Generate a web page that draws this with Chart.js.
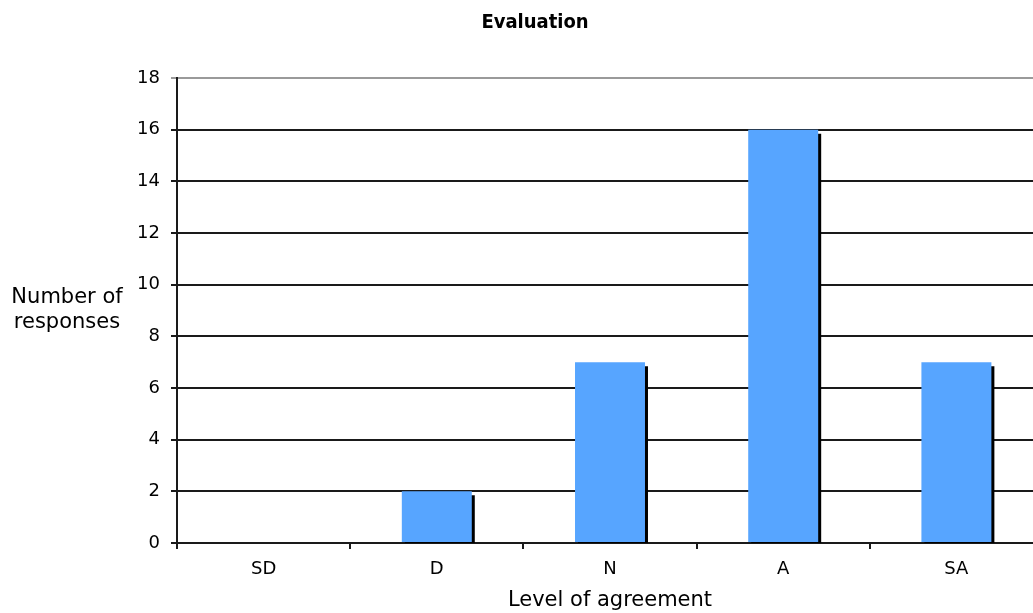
<!DOCTYPE html>
<html>
<head>
<meta charset="utf-8">
<script src="https://cdn.jsdelivr.net/npm/chart.js@4.4.0/dist/chart.umd.min.js"></script>
<style>
  html, body { margin: 0; padding: 0; background: #ffffff; overflow: hidden; }
  #wrap { position: relative; width: 1078px; height: 613px; }
</style>
</head>
<body>
<div id="wrap"><canvas id="c"></canvas></div>
<script>
const chartTitle = 'Evaluation';
const categories = ['SD', 'D', 'N', 'A', 'SA'];
const responses = [0, 2, 7, 16, 7];
const yTitleLines = ['Number of', 'responses'];
const xTitle = 'Level of agreement';
const yMin = 0, yMax = 18, yStep = 2;

const FONT = "'DejaVu Sans', Verdana, sans-serif";

const shadowPlugin = {
  id: 'barShadow',
  beforeDatasetDraw(chart) {
    const ctx = chart.ctx;
    ctx.save();
    ctx.shadowColor = '#000000';
    ctx.shadowOffsetX = 3;
    ctx.shadowOffsetY = 4;
    ctx.shadowBlur = 0;
  },
  afterDatasetDraw(chart) {
    chart.ctx.restore();
  }
};

const yTitlePlugin = {
  id: 'yTitleFlat',
  afterDraw(chart) {
    const ctx = chart.ctx;
    const area = chart.chartArea;
    const cy = (area.top + area.bottom) / 2;
    ctx.save();
    ctx.font = '21px ' + FONT;
    ctx.fillStyle = '#000000';
    ctx.textAlign = 'center';
    ctx.textBaseline = 'middle';
    const cx = 67;
    ctx.fillText(yTitleLines[0], cx, cy - 12.5);
    ctx.fillText(yTitleLines[1], cx, cy + 12.5);
    ctx.restore();
  }
};

new Chart(document.getElementById('c'), {
  type: 'bar',
  data: {
    labels: categories,
    datasets: [{
      data: responses,
      backgroundColor: '#57A5FF',
      borderWidth: 0,
      categoryPercentage: 1.0,
      barPercentage: 0.404,
      clip: 0
    }]
  },
  options: {
    responsive: true,
    maintainAspectRatio: false,
    devicePixelRatio: 1,
    animation: false,
    layout: { padding: { left: 27, right: 35, top: 0, bottom: 0 } },
    plugins: {
      legend: { display: false },
      tooltip: { enabled: false },
      title: {
        display: true,
        text: chartTitle,
        color: '#000000',
        font: { family: "'DejaVu Sans Condensed', 'DejaVu Sans', sans-serif", size: 20, weight: 'bold' },
        padding: { top: 11, bottom: 43 }
      }
    },
    scales: {
      x: {
        afterFit(s) { s.height = 70; },
        grid: { display: true, drawOnChartArea: false, drawTicks: true, tickLength: 6, lineWidth: 2, color: '#1a1a1a', offset: true },
        border: { display: true, color: '#1a1a1a', width: 2 },
        ticks: { color: '#000000', font: { family: FONT, size: 18 }, padding: 10 },
        title: { display: true, text: xTitle, color: '#000000', font: { family: FONT, size: 21 }, padding: { top: 0, bottom: 0 } }
      },
      y: {
        min: yMin, max: yMax,
        afterFit(s) { s.width = 150; },
        grid: {
          color: (c) => (c.tick && c.tick.value === yMax) ? '#9a9a9a' : '#1a1a1a',
          lineWidth: 2,
          tickLength: 6,
          drawTicks: true
        },
        border: { display: true, color: '#1a1a1a', width: 2 },
        ticks: { stepSize: yStep, color: '#000000', font: { family: FONT, size: 18 }, padding: 11 }
      }
    }
  },
  plugins: [shadowPlugin, yTitlePlugin]
});
</script>
</body>
</html>
